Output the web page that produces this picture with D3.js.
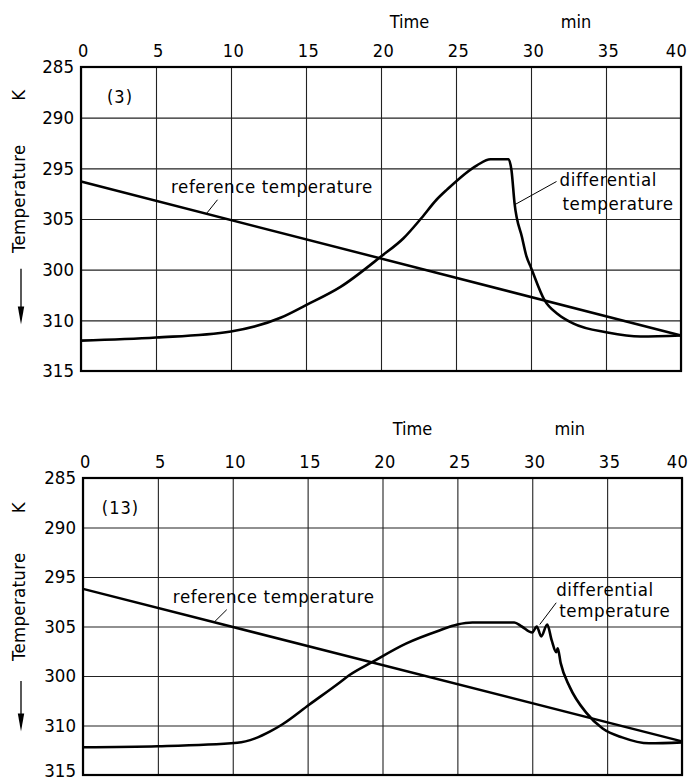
<!DOCTYPE html>
<html>
<head>
<meta charset="utf-8">
<script src="https://cdn.jsdelivr.net/npm/d3@7"></script>
<style>
  body { margin: 0; background: #fff; }
  svg { display: block; }
  text { font-family: "DejaVu Sans Condensed", "DejaVu Sans", sans-serif; fill: #000; }
  .domain { display: none; }
</style>
</head>
<body>
<div id="chart"></div>
<script>
// axis values
var timeTicks = [0, 5, 10, 15, 20, 25, 30, 35, 40];
var tempTicks = [285, 290, 295, 300, 305, 310, 315];
var tempTickLabels = ["285", "290", "295", "305", "300", "310", "315"];

// reference temperature (straight line)
var refTime = [0, 40];
var ref3Temp = [296.3, 311.5];
var ref13Temp = [296.2, 311.6];

// differential temperature, sample (3)
var diff3Time = [0, 5, 10, 13.3, 15, 17.3, 20, 21.5, 22.7, 23.7, 24.4, 26.4, 27.3, 28.5, 28.7, 28.9, 29.4, 29.7, 30.0, 30.9, 31.8, 32.8, 35.1, 37.3, 40];
var diff3Temp = [312.0, 311.7, 311.1, 309.75, 308.5, 306.7, 303.7, 301.9, 299.9, 298.1, 297.1, 294.7, 294.1, 294.1, 295.2, 298.4, 301.8, 303.7, 304.8, 308.0, 309.4, 310.3, 311.2, 311.6, 311.5];

// differential temperature, sample (13)
var diff13Time = [0, 5, 10.3, 11.5, 12.5, 13.3, 15.1, 17.1, 17.8, 19.3, 21.6, 23.8, 25, 26, 28.8, 29.3, 30.0, 30.3, 30.6, 31.0, 31.3, 31.6, 31.7, 31.9, 32.5, 33.6, 34.7, 36, 37.8, 40];
var diff13Temp = [312.2, 312.1, 311.75, 311.3, 310.6, 309.9, 307.9, 305.7, 304.9, 303.6, 301.7, 300.4, 299.8, 299.6, 299.6, 300.0, 300.6, 300.0, 301.0, 299.8, 301.4, 302.6, 302.2, 303.7, 306.1, 308.7, 310.3, 311.2, 311.8, 311.7];

var W = 691, H = 782;

var svg = d3.select("#chart")
    .append("svg")
    .attr("width", W)
    .attr("height", H);

function drawPanel(p) {

    var width = p.right - p.left,
        height = p.bottom - p.top;

    var x = d3.scaleLinear().domain([0, 40]).range([0, width]);
    var y = d3.scaleLinear().domain([285, 315]).range([0, height]);

    var g = svg.append("g")
        .attr("transform", "translate(" + p.left + "," + p.top + ")");

    // grid
    g.append("g")
        .attr("transform", "translate(0," + height + ")")
        .call(d3.axisBottom(x).tickValues(timeTicks).tickSize(-height).tickFormat(""))
        .selectAll("line").attr("stroke", "#222").attr("stroke-width", 1.1);

    g.append("g")
        .call(d3.axisLeft(y).tickValues(tempTicks).tickSize(-width).tickFormat(""))
        .selectAll("line").attr("stroke", "#222").attr("stroke-width", 1.1);

    // frame
    g.append("rect")
        .attr("width", width).attr("height", height)
        .attr("fill", "none").attr("stroke", "#000").attr("stroke-width", 2.2);

    // tick labels
    var xa = g.append("g")
        .call(d3.axisTop(x).tickValues(timeTicks).tickSize(0).tickPadding(10));
    xa.selectAll("text")
        .style("font-size", "18px")
        .attr("letter-spacing", "0.5px")
        .attr("dx", function (d) { return d === 40 ? "-5px" : "2px"; });

    var ya = g.append("g")
        .call(d3.axisLeft(y).tickValues(tempTicks).tickSize(0).tickPadding(7)
            .tickFormat(function (d, i) { return tempTickLabels[i]; }));
    ya.selectAll("text")
        .style("font-size", "18.5px")
        .attr("dy", function (d) { return d === 315 && p.tag === "(13)" ? "0.1em" : "0.32em"; });

    // axis titles
    g.append("text")
        .attr("x", x(p.timeLabelX)).attr("y", p.timeLabelY - p.top)
        .attr("text-anchor", "middle").style("font-size", "18px")
        .text("Time");
    g.append("text")
        .attr("x", x(p.minLabelX)).attr("y", p.timeLabelY - p.top)
        .attr("text-anchor", "middle").style("font-size", "18px")
        .text("min");

    var titleX = -p.left + 19;
    g.append("text")
        .attr("transform", "translate(" + titleX + "," + y(p.kLabelY) + ") rotate(-90)")
        .attr("dy", "0.35em")
        .attr("text-anchor", "middle").style("font-size", "18.5px")
        .text("K");
    g.append("text")
        .attr("transform", "translate(" + titleX + "," + y(p.tempLabelY) + ") rotate(-90)")
        .attr("dy", "0.35em")
        .attr("text-anchor", "middle").style("font-size", "18.5px")
        .attr("letter-spacing", "0.3px")
        .text("Temperature");

    // downward arrow
    var ax = -p.left + 21;
    g.append("line")
        .attr("x1", ax).attr("x2", ax)
        .attr("y1", y(p.arrowFrom)).attr("y2", y(p.arrowTo) - 12)
        .attr("stroke", "#000").attr("stroke-width", 1.3);
    g.append("path")
        .attr("d", d3.line()([[ax - 3.2, y(p.arrowTo) - 18], [ax + 3.2, y(p.arrowTo) - 18], [ax, y(p.arrowTo)]]) + "Z")
        .attr("fill", "#000");

    // panel label
    g.append("text")
        .attr("x", x(p.tagX)).attr("y", y(p.tagY))
        .attr("dy", "0.35em").attr("text-anchor", "middle")
        .style("font-size", "18px")
        .attr("letter-spacing", "1px")
        .text(p.tag);

    var line = d3.line()
        .x(function (d) { return x(d[0]); })
        .y(function (d) { return y(d[1]); })
        .curve(d3.curveMonotoneX);

    g.append("path")
        .datum(d3.zip(refTime, p.ref))
        .attr("d", line)
        .attr("fill", "none").attr("stroke", "#000").attr("stroke-width", 2.5);

    g.append("path")
        .datum(d3.zip(p.diffTime, p.diff))
        .attr("d", line)
        .attr("fill", "none").attr("stroke", "#000").attr("stroke-width", 2.6)
        .attr("stroke-linejoin", "round");

    // annotations
    p.notes.forEach(function (n) {
        n.text.forEach(function (t, i) {
            g.append("text")
                .attr("x", x(n.tx[i])).attr("y", y(n.ty[i]))
                .attr("dy", "0.35em")
                .style("font-size", "18.5px")
                .attr("letter-spacing", "0.6px")
                .text(t);
        });
        g.append("line")
            .attr("x1", x(n.lead[0])).attr("y1", y(n.lead[1]))
            .attr("x2", x(n.lead[2])).attr("y2", y(n.lead[3]))
            .attr("stroke", "#000").attr("stroke-width", 1);
    });
}

drawPanel({
    left: 81, right: 681, top: 67, bottom: 371,
    timeLabelX: 21.9, minLabelX: 33, timeLabelY: 28,
    kLabelY: 287.8, tempLabelY: 298.0, arrowFrom: 304.9, arrowTo: 310.4,
    tag: "(3)", tagX: 2.6, tagY: 287.9,
    ref: ref3Temp, diffTime: diff3Time, diff: diff3Temp,
    notes: [
        { text: ["reference temperature"], tx: [6.0], ty: [296.8], lead: [8.4, 299.4, 9.1, 298.1] },
        { text: ["differential", "temperature"], tx: [31.9, 32.1], ty: [296.1, 298.5], lead: [28.9, 298.6, 31.7, 296.3] }
    ]
});

drawPanel({
    left: 83, right: 682, top: 478, bottom: 775,
    timeLabelX: 22.0, minLabelX: 32.5, timeLabelY: 435,
    kLabelY: 288.0, tempLabelY: 298.0, arrowFrom: 305.5, arrowTo: 310.6,
    tag: "(13)", tagX: 2.5, tagY: 288.0,
    ref: ref13Temp, diffTime: diff13Time, diff: diff13Temp,
    notes: [
        { text: ["reference temperature"], tx: [6.0], ty: [297.0], lead: [8.8, 299.5, 9.6, 298.3] },
        { text: ["differential", "temperature"], tx: [31.6, 31.8], ty: [296.3, 298.4], lead: [30.5, 299.8, 31.6, 297.6] }
    ]
});
</script>
</body>
</html>
